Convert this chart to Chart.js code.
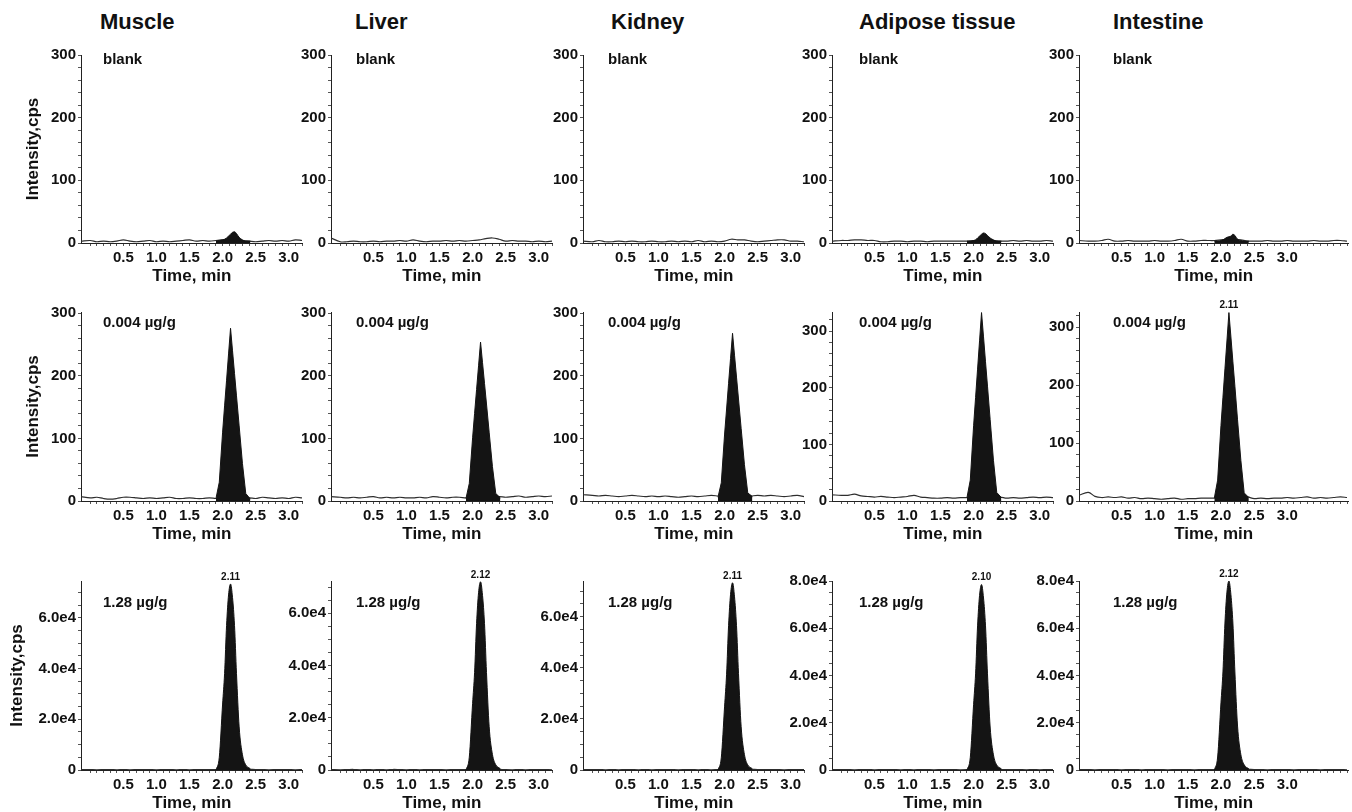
<!DOCTYPE html>
<html>
<head>
<meta charset="utf-8">
<script src="https://cdn.jsdelivr.net/npm/chart.js@4.4.1/dist/chart.umd.min.js"></script>
<style>
  body { margin: 0; background: #fff; width: 1352px; height: 812px; overflow: hidden; position: relative;
         font-family: 'Liberation Sans', Arial, sans-serif; }
  .col-title { position: absolute; top: 9px; font-weight: bold; font-size: 22px; color: #111; white-space: nowrap; }
  canvas { position: absolute; }
</style>
</head>
<body>
<script>
// column / row names
const tissues = ['Muscle', 'Liver', 'Kidney', 'Adipose tissue', 'Intestine'];
const levels = ['blank', '0.004 \u00b5g/g', '1.28 \u00b5g/g'];

// tick labels
const timeTicks = [0.5, 1.0, 1.5, 2.0, 2.5, 3.0];
const lowTicks = [0, 100, 200, 300];
const highTicks = [0, 20000, 40000, 60000, 80000];

// time points of the traces (min)
const noiseTimes = [-0.14, 0, 0.1, 0.2, 0.3, 0.4, 0.5, 0.6, 0.7, 0.8, 0.9, 1.0, 1.1, 1.2, 1.3, 1.4, 1.5,
  1.6, 1.7, 1.8, 1.9, 2.0, 2.1, 2.2, 2.3, 2.4, 2.5, 2.6, 2.7, 2.8, 2.9, 3.0, 3.1, 3.2];
const noiseTimesLong = [-0.14, 0, 0.1, 0.2, 0.3, 0.4, 0.5, 0.6, 0.7, 0.8, 0.9, 1.0, 1.1, 1.2, 1.3, 1.4, 1.5,
  1.6, 1.7, 1.8, 1.9, 2.0, 2.1, 2.2, 2.3, 2.4, 2.5, 2.6, 2.7, 2.8, 2.9, 3.0, 3.1, 3.2, 3.3, 3.4, 3.5, 3.6, 3.7, 3.8, 3.9];
const peakTimes = [1.90, 1.95, 2.00, 2.03, 2.06, 2.09, 2.12, 2.15, 2.18, 2.21, 2.25, 2.30, 2.35, 2.42];

// blank baselines (cps)
const muscleBlank = [3,4,2,3,2,3,5,3,2,3,4,2,3,2,3,4,5,3,4,3,4,5,6,5,4,3,2,3,4,3,4,3,5,4];
const liverBlank = [8,2,2,3,2,2,3,2,3,3,4,3,5,3,2,3,3,4,3,4,3,4,5,7,8,6,3,4,3,3,2,3,2,3];
const kidneyBlank = [3,2,4,2,2,3,2,3,2,2,3,2,2,3,2,3,2,4,2,3,2,3,6,5,5,3,2,3,4,5,5,3,3,2];
const adiposeBlank = [3,4,4,5,5,4,4,2,2,3,3,2,3,3,2,3,3,3,3,3,3,4,4,4,4,3,3,4,3,4,3,3,4,3];
const intestineBlank = [4,3,3,4,6,3,3,4,3,3,3,4,3,3,4,6,3,3,4,4,4,5,6,6,5,3,3,3,4,3,3,4,3,3,3,4,3,3,4,4,3];

// small peaks in the blanks (cps)
const muscleBlankPeak = [3,4,5,6,8,11,14,17,18,15,9,5,3,3];
const adiposeBlankPeak = [3,3,4,5,8,11,14,16,15,12,8,5,3,3];
const intestineBlankPeak = [3,3,4,5,7,9,10,11,14,12,6,4,3,3];

// 0.004 ug/g baselines (cps)
const muscleLow = [7,5,6,4,3,4,6,6,5,4,5,4,5,6,4,4,5,4,4,5,4,4,4,4,4,5,4,6,5,4,5,4,6,5];
const liverLow = [7,6,5,6,5,6,7,5,6,5,6,5,5,6,5,7,6,5,6,6,5,5,5,5,5,7,6,7,8,6,7,8,7,8];
const kidneyLow = [10,9,8,9,8,7,8,9,8,7,8,7,8,7,6,7,8,7,8,9,8,7,7,7,7,8,9,8,9,8,7,8,9,7];
const adiposeLow = [11,10,10,12,9,8,7,8,7,6,7,8,10,7,6,5,5,6,5,6,6,6,6,6,6,7,5,6,5,6,7,6,7,6];
const intestineLow = [10,15,8,6,7,6,7,5,6,4,5,4,3,4,5,3,4,4,5,5,5,6,6,6,6,7,4,5,4,5,5,6,5,6,7,5,6,5,6,7,6];

// 0.004 ug/g peaks (cps)
const muscleLowPeak = [4,30,110,152,193,235,276,240,204,168,120,60,12,3];
const liverLowPeak = [4,28,101,140,178,216,254,221,188,155,110,55,12,5];
const kidneyLowPeak = [6,29,107,147,188,228,268,233,198,163,116,58,13,7];
const adiposeLowPeak = [6,37,133,183,233,283,333,290,246,203,144,72,15,6];
const intestineLowPeak = [5,36,130,179,228,276,325,283,240,198,140,70,14,6];

// 1.28 ug/g baselines (cps)
const muscleHigh = [200,150,100,150,200,100,150,100,150,200,150,100,150,200,100,150,100,150,200,150,200,250,300,300,300,250,200,150,100,150,200,150,100,150];
const liverHigh = [150,100,150,200,100,150,100,150,100,200,150,100,150,100,150,200,150,100,150,200,150,250,300,300,300,250,150,100,150,100,150,200,150,100];
const kidneyHigh = [200,150,200,100,150,100,200,150,100,150,100,150,200,150,100,150,200,100,150,100,200,250,300,300,300,250,200,150,200,150,100,150,200,150];
const adiposeHigh = [150,200,150,100,150,200,100,150,200,150,100,150,100,200,150,100,150,200,150,100,150,250,300,300,300,250,150,200,150,100,150,100,150,200];
const intestineHigh = [200,150,100,150,200,150,100,150,200,100,150,200,150,100,150,200,150,100,150,200,150,250,300,300,300,250,200,150,100,150,200,150,100,150,200,150,100,150,200,150,100];

// 1.28 ug/g peaks (cps)
const muscleHighPeak = [0,5000,26000,38000,57000,69000,73300,68000,57000,38000,17000,6000,2000,500];
const liverHighPeak = [0,4900,25500,37300,56000,67800,72000,66800,56000,37300,16700,5900,2000,500];
const kidneyHighPeak = [0,4800,25000,37500,56500,68800,73300,67800,56500,37800,17000,6000,2000,500];
const adiposeHighPeak = [0,5300,27800,40700,61000,73900,78500,72800,61000,40700,18200,6400,2100,500];
const intestineHighPeak = [0,5500,28400,41500,62200,75300,80000,74200,62200,41500,18600,6500,2200,500];

// retention time labels over the peaks
const peakLabels = [
  ['', '', '', '', ''],
  ['', '', '', '', '2.11'],
  ['2.11', '2.12', '2.11', '2.10', '2.12']
];

// axis ranges
const yMaxRows = [
  [300, 300, 300, 300, 300],
  [302, 302, 302, 334, 326],
  [74500, 72300, 74000, 80000, 80000]
];
const xMaxCols = [3.21, 3.21, 3.21, 3.21, 3.92];

const baselines = [
  [muscleBlank, liverBlank, kidneyBlank, adiposeBlank, intestineBlank],
  [muscleLow, liverLow, kidneyLow, adiposeLow, intestineLow],
  [muscleHigh, liverHigh, kidneyHigh, adiposeHigh, intestineHigh]
];
const peaks = [
  [muscleBlankPeak, [], [], adiposeBlankPeak, intestineBlankPeak],
  [muscleLowPeak, liverLowPeak, kidneyLowPeak, adiposeLowPeak, intestineLowPeak],
  [muscleHighPeak, liverHighPeak, kidneyHighPeak, adiposeHighPeak, intestineHighPeak]
];

// page layout (pixels)
const axisX = [81, 331, 583, 832, 1079];
const plotW = [224, 224, 224, 224, 271];
const rowTop = [55, 312, 581];
const rowZero = [243, 501, 770];
const titleLeft = [100, 355, 611, 859, 1113];
const labelDx = [22, 25, 25, 27, 34];
const labelDy = [5, 11, 22];
const yTitlePad = [23, 23, 7];
const padTop = 22;
const xAxisH = 46;

const FONT = "'Liberation Sans', Arial, sans-serif";
Chart.defaults.font.family = FONT;
Chart.defaults.color = '#111';

tissues.forEach((name, c) => {
  const d = document.createElement('div');
  d.className = 'col-title';
  d.style.left = titleLeft[c] + 'px';
  d.textContent = name;
  document.body.appendChild(d);
});

function pairs(xs, ys) {
  return ys.map((y, i) => ({ x: xs[i], y: y }));
}

function stepTicks(step, max) {
  const out = [];
  for (let v = 0; v <= max + 1e-9; v += step) out.push(+v.toFixed(3));
  return out;
}

// sample label and retention time label
const panelText = {
  id: 'panelText',
  afterDatasetsDraw(chart, args, opts) {
    const ctx = chart.ctx;
    const area = chart.chartArea;
    ctx.save();
    ctx.fillStyle = '#111';
    ctx.font = 'bold 15px ' + FONT;
    ctx.textAlign = 'left';
    ctx.textBaseline = 'middle';
    ctx.fillText(opts.level, area.left + opts.dx, area.top + opts.dy);
    if (opts.peak) {
      const pts = chart.getDatasetMeta(0).data;
      let top = pts[0];
      pts.forEach(p => { if (p.y < top.y) top = p; });
      ctx.font = 'bold 10px ' + FONT;
      ctx.textAlign = 'center';
      ctx.textBaseline = 'bottom';
      ctx.fillText(opts.peak, top.x, top.y - 2);
    }
    ctx.restore();
  }
};

for (let r = 0; r < 3; r++) {
  for (let c = 0; c < 5; c++) {
    const yW = c === 0 ? 81 : 60;
    const yMax = yMaxRows[r][c];
    const xMax = xMaxCols[c];
    const majors = r === 2 ? highTicks : lowTicks;
    const yMinor = stepTicks(r === 2 ? 5000 : 20, yMax);
    const times = c === 4 ? noiseTimesLong : noiseTimes;

    const canvas = document.createElement('canvas');
    const w = yW + plotW[c];
    const h = padTop + (rowZero[r] - rowTop[r]) + xAxisH;
    canvas.width = w;
    canvas.height = h;
    canvas.style.left = (axisX[c] - yW) + 'px';
    canvas.style.top = (rowTop[r] - padTop) + 'px';
    canvas.style.width = w + 'px';
    canvas.style.height = h + 'px';
    document.body.appendChild(canvas);

    new Chart(canvas, {
      type: 'line',
      data: {
        datasets: [
          {
            // peak area, drawn on top of the baseline
            data: pairs(peakTimes, peaks[r][c]),
            borderColor: '#141414',
            backgroundColor: '#141414',
            borderWidth: 1,
            pointRadius: 0,
            fill: 'origin',
            tension: 0,
            cubicInterpolationMode: r === 1 ? 'default' : 'monotone'
          },
          {
            data: pairs(times, baselines[r][c]),
            borderColor: '#2e2e2e',
            borderWidth: 1.2,
            pointRadius: 0,
            fill: false,
            tension: 0.35
          }
        ]
      },
      options: {
        responsive: false,
        animation: false,
        devicePixelRatio: 1,
        layout: { padding: { top: padTop, right: 0, bottom: 0, left: 0 } },
        plugins: {
          legend: { display: false },
          tooltip: { enabled: false },
          panelText: { level: levels[r], peak: peakLabels[r][c], dx: labelDx[c], dy: labelDy[r] }
        },
        scales: {
          x: {
            type: 'linear',
            min: -0.14,
            max: xMax,
            afterBuildTicks: s => { s.ticks = stepTicks(0.1, xMax).map(v => ({ value: v })); },
            afterFit: s => { s.height = xAxisH; },
            border: { display: true, color: '#222', width: 1 },
            grid: { drawOnChartArea: false, drawTicks: true, tickLength: 3, color: '#555' },
            ticks: {
              autoSkip: false, maxRotation: 0, minRotation: 0, padding: 3,
              font: { size: 15, weight: 'bold' },
              callback: v => timeTicks.some(t => Math.abs(t - v) < 1e-6) ? v.toFixed(1) : ''
            },
            title: { display: true, text: 'Time, min', font: { size: 17, weight: 'bold' }, padding: { top: 0, bottom: 2 } }
          },
          y: {
            type: 'linear',
            min: 0,
            max: yMax,
            afterBuildTicks: s => { s.ticks = yMinor.map(v => ({ value: v })); },
            afterFit: s => { s.width = yW; },
            border: { display: true, color: '#222', width: 1 },
            grid: { drawOnChartArea: false, drawTicks: true, tickLength: 3, color: '#555' },
            ticks: {
              autoSkip: false, padding: 2,
              font: { size: 15, weight: 'bold' },
              callback: v => {
                if (!majors.includes(v)) return '';
                if (r === 2) return v === 0 ? '0' : (v / 10000).toFixed(1) + 'e4';
                return String(v);
              }
            },
            title: {
              display: c === 0,
              text: 'Intensity,cps',
              font: { size: 17, weight: 'bold' },
              padding: { top: yTitlePad[r], bottom: 0 }
            }
          }
        }
      },
      plugins: [panelText]
    });
  }
}
</script>
</body>
</html>
